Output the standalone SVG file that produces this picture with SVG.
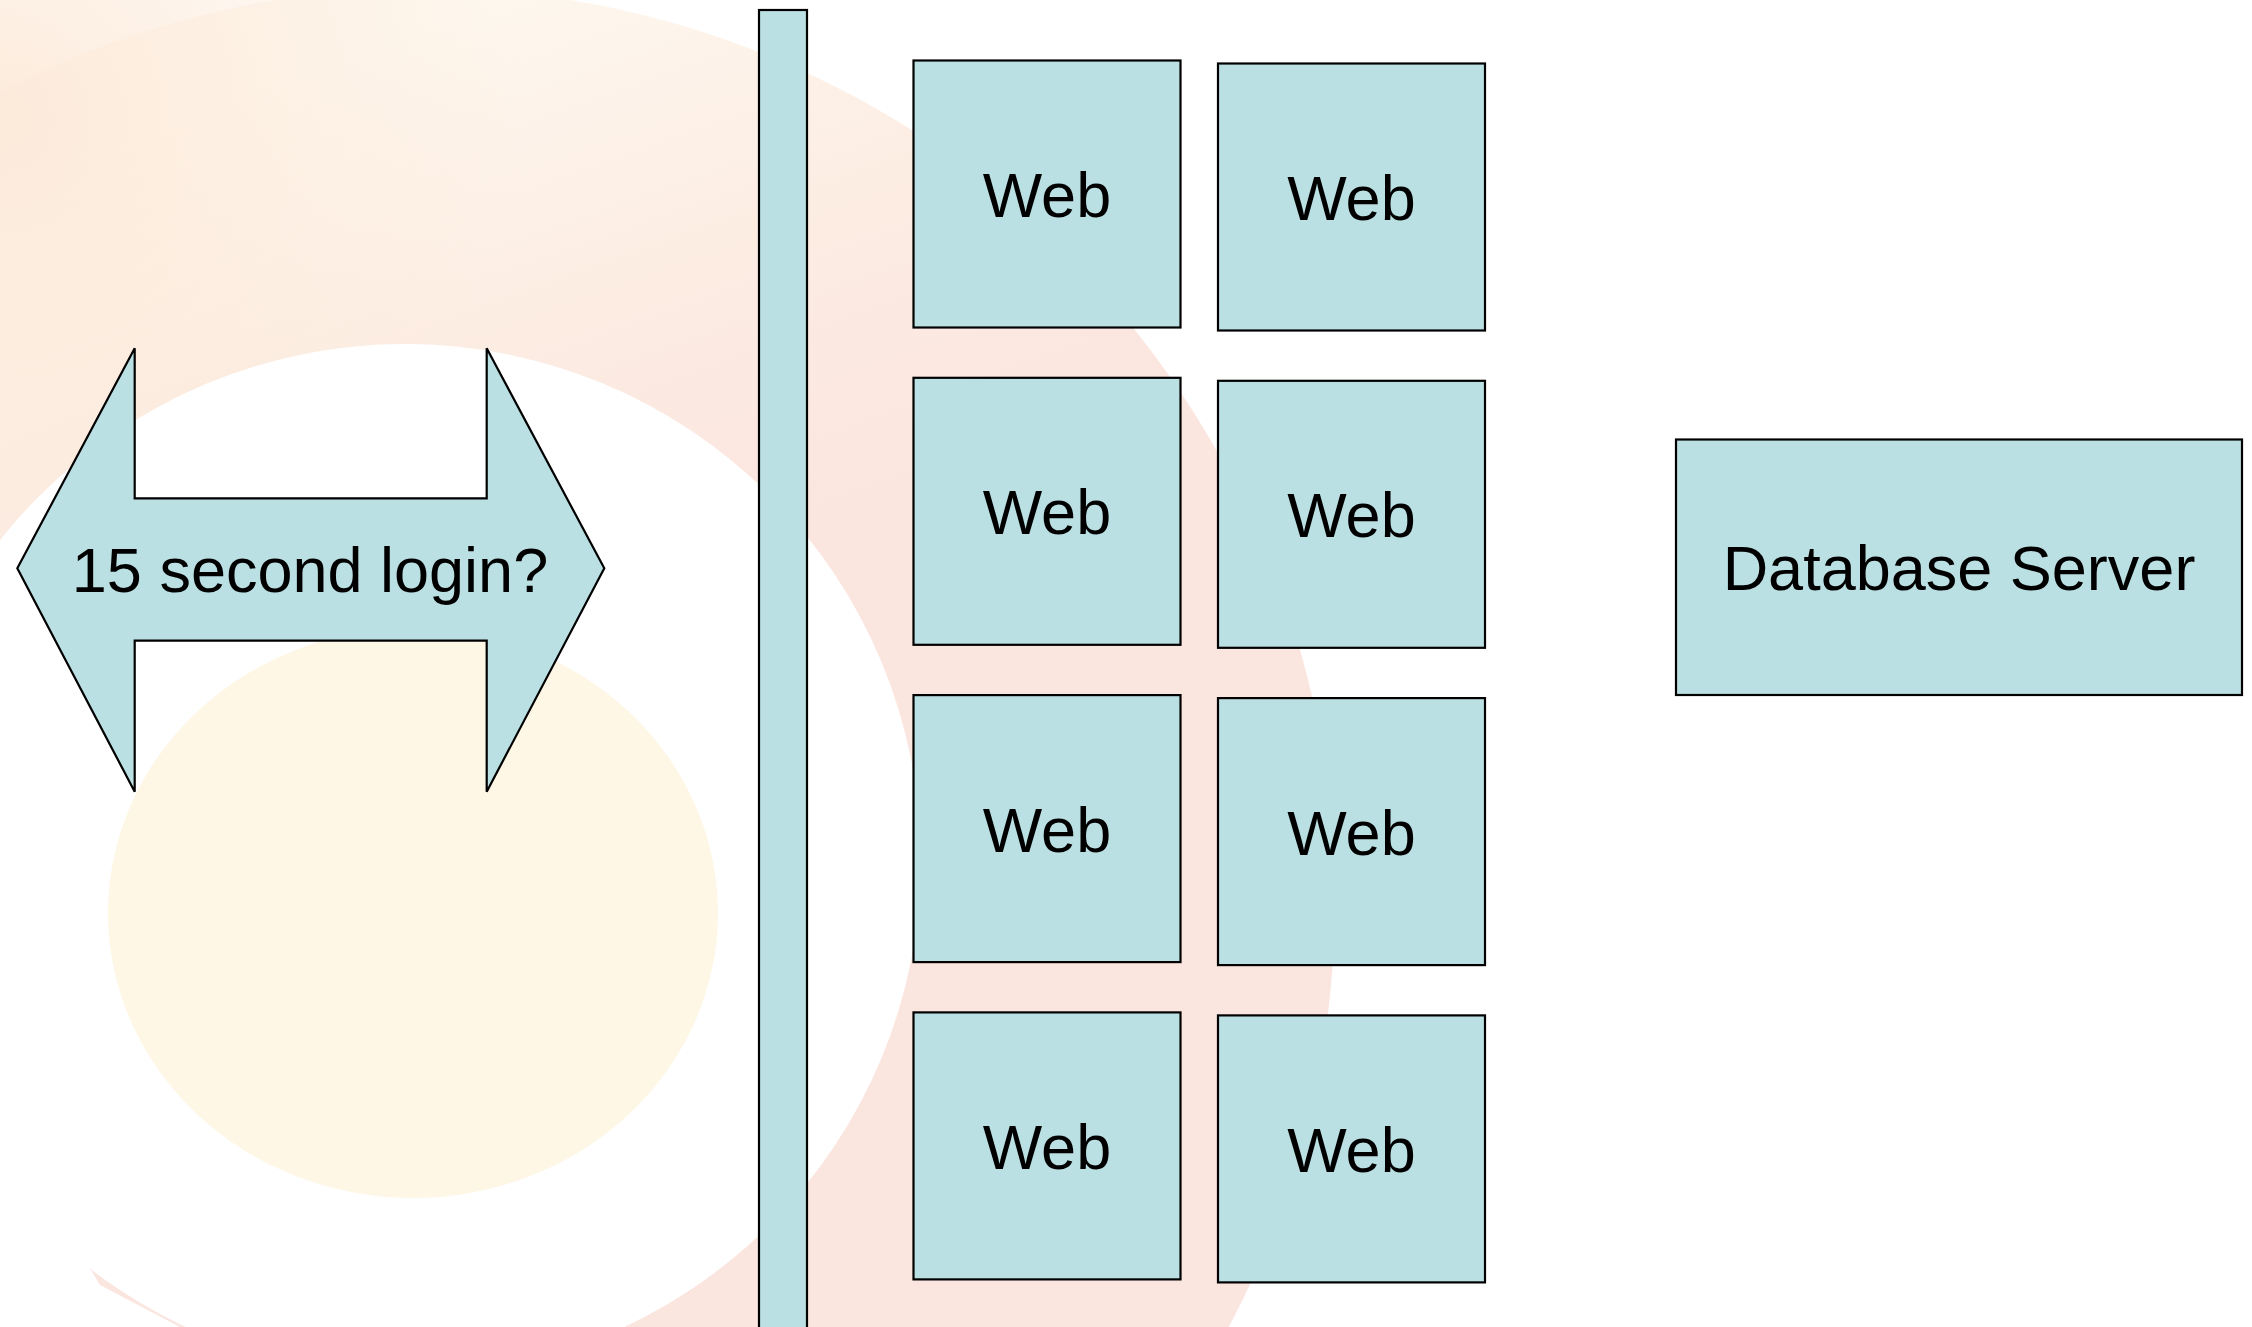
<svg xmlns="http://www.w3.org/2000/svg" width="2252" height="1327" viewBox="0 0 2252 1327">
  <defs>
    <style>
      .box { fill: #BBE0E3; stroke: #000; stroke-width: 2.2; }
      .lbl { font-family: "Liberation Sans", Arial, sans-serif; font-size: 63px; fill: #000; text-anchor: middle; }
    </style>
    <!-- logo ring: pale at the top, warmer pink lower down -->
    <linearGradient id="ringFill" gradientUnits="userSpaceOnUse" x1="500" y1="0" x2="700" y2="560">
      <stop offset="0" stop-color="#FEF7EE"/>
      <stop offset="0.5" stop-color="#FCEDE3"/>
      <stop offset="1" stop-color="#FBE5DF"/>
    </linearGradient>
    <radialGradient id="cornerTint" gradientUnits="userSpaceOnUse" cx="0" cy="120" r="520">
      <stop offset="0" stop-color="#FCE9D8" stop-opacity="0.9"/>
      <stop offset="1" stop-color="#FCE9D8" stop-opacity="0"/>
    </radialGradient>
  </defs>

  <!-- page background and faint logo watermark -->
  <rect x="0" y="0" width="2252" height="1327" fill="#FFFFFF"/>
  <g id="watermark">
    <circle cx="423" cy="900" r="912" fill="url(#ringFill)"/>
    <rect x="0" y="0" width="700" height="700" fill="url(#cornerTint)"/>
    <circle cx="405" cy="860" r="516" fill="#FFFFFF"/>
    <polygon points="0,1120 100,1285 180,1327 0,1327" fill="#FFFFFF"/>
    <ellipse cx="413" cy="913" rx="305" ry="285" fill="#FEF7E6"/>
  </g>

  <!-- double-headed arrow -->
  <g id="login-arrow">
    <polygon class="box" points="17.3,568.3 134.7,348.3 134.7,498.3 486.7,498.3 486.7,348.3 604.3,568.3 486.7,791.7 486.7,640.7 134.7,640.7 134.7,791.7"/>
    <text class="lbl" x="310" y="592">15 second login?</text>
  </g>

  <!-- load balancer bar -->
  <g id="balancer">
    <rect class="box" x="759" y="10" width="48" height="1330"/>
  </g>

  <!-- web server farm, column 1 -->
  <g id="web-1-1"><rect class="box" x="913.5" y="60.5" width="267" height="267"/><text class="lbl" x="1047" y="217">Web</text></g>
  <g id="web-2-1"><rect class="box" x="913.5" y="377.8" width="267" height="267"/><text class="lbl" x="1047" y="534.3">Web</text></g>
  <g id="web-3-1"><rect class="box" x="913.5" y="695.1" width="267" height="267"/><text class="lbl" x="1047" y="851.6">Web</text></g>
  <g id="web-4-1"><rect class="box" x="913.5" y="1012.4" width="267" height="267"/><text class="lbl" x="1047" y="1168.9">Web</text></g>

  <!-- web server farm, column 2 -->
  <g id="web-1-2"><rect class="box" x="1218" y="63.5" width="267" height="267"/><text class="lbl" x="1351.5" y="220">Web</text></g>
  <g id="web-2-2"><rect class="box" x="1218" y="380.8" width="267" height="267"/><text class="lbl" x="1351.5" y="537.3">Web</text></g>
  <g id="web-3-2"><rect class="box" x="1218" y="698.1" width="267" height="267"/><text class="lbl" x="1351.5" y="854.6">Web</text></g>
  <g id="web-4-2"><rect class="box" x="1218" y="1015.4" width="267" height="267"/><text class="lbl" x="1351.5" y="1171.9">Web</text></g>

  <!-- database -->
  <g id="database">
    <rect class="box" x="1676" y="439.5" width="566" height="255.5"/>
    <text class="lbl" x="1959" y="590">Database Server</text>
  </g>

  <g id="connectors"/>
</svg>
